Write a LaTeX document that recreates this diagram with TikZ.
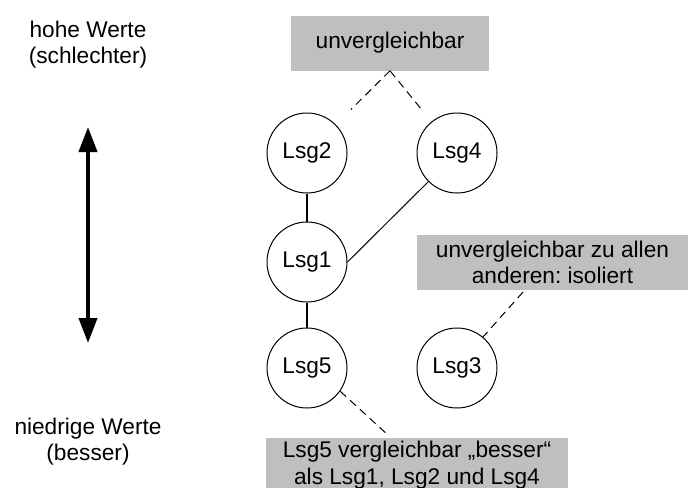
\documentclass[tikz,border=0pt]{standalone}
\usepackage{fontspec}
\setmainfont{Liberation Sans}
\usetikzlibrary{arrows.meta}
\frenchspacing

\begin{document}
\begin{tikzpicture}[x=0.75pt,y=-0.75pt,
  every node/.style={font=\fontsize{17}{20}\selectfont},
  lsg/.style={draw, circle, minimum size=60pt, inner sep=0pt, line width=0.75pt},
  kasten/.style={fill=gray!50, align=center, inner sep=0pt},
  bezug/.style={line width=0.75pt, dash pattern=on 6pt off 4pt},
  kante/.style={line width=0.75pt}]
\clip (0,0) rectangle (689,487);

% Achse links
\node [align=center, inner sep=0pt] (hoch) at (88,44.5) {hohe Werte\\(schlechter)};
\node [align=center, inner sep=0pt] (tief) at (88,441.5) {niedrige Werte\\(besser)};
\coordinate (pfeiloben) at (88,127);
\coordinate (pfeilunten) at (88,343);
\draw [line width=3pt, {Triangle[length=18.75pt,width=13.5pt]}-{Triangle[length=18.75pt,width=13.5pt]}] (pfeiloben) -- (pfeilunten);

% Loesungen
\node [lsg] (L2) at (307,153) {Lsg2};
\node [lsg] (L4) at (457,153) {Lsg4};
\node [lsg] (L1) at (307,262) {Lsg1};
\node [lsg] (L5) at (307,368) {Lsg5};
\node [lsg] (L3) at (457,368) {Lsg3};

\draw [line width=1.5pt] (L2) -- (L1);
\draw [line width=1.5pt] (L1) -- (L5);
\draw [kante] (L1.east) -- (L4.south west);

% Kommentare
\node [kasten, minimum width=148.5pt, minimum height=41.25pt] (unvgl) at (390,43) {unvergleichbar};
\node [kasten, minimum width=203.25pt, minimum height=41.25pt] (iso) at (552.5,262.5) {unvergleichbar zu allen\\anderen: isoliert};
\node [kasten, minimum width=226.5pt, minimum height=40.5pt] (besser) at (417,465) {Lsg5 vergleichbar „besser“\\als Lsg1, Lsg2 und Lsg4};

\coordinate (isofuss) at (523,292);
\coordinate (besserkopf) at (388,435);
\draw [bezug, shorten >=16pt] (unvgl.south) -- (L2);
\draw [bezug, shorten >=11pt] (unvgl.south) -- (L4);
\draw [bezug] (isofuss) -- (L3.50);
\draw [bezug] (L5.-35) -- (besserkopf);
\end{tikzpicture}
\end{document}
